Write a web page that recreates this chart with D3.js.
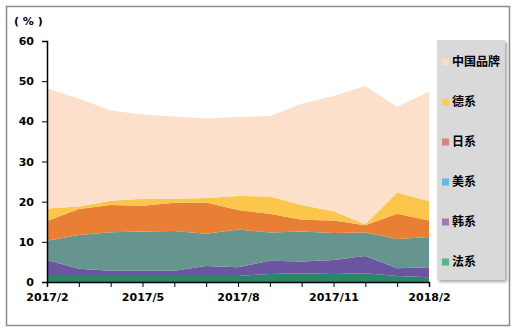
<!DOCTYPE html>
<html>
<head>
<meta charset="utf-8">
<script src="https://cdnjs.cloudflare.com/ajax/libs/d3/7.8.5/d3.min.js"></script>
<style type='text/css'>
  body { margin: 0; background: #fff; }
  svg text { font-family: "DejaVu Sans", "Noto Sans CJK SC", sans-serif; font-weight: bold; fill: #000; }
</style>
</head>
<body>
<div id='chart'></div>
<script type='text/javascript'>
  var months = ['2017/2','2017/3','2017/4','2017/5','2017/6','2017/7','2017/8','2017/9','2017/10','2017/11','2017/12','2018/1','2018/2'];
  var tickLabels = ['2017/2','2017/5','2017/8','2017/11','2018/2'];
  var yTicks = [0, 10, 20, 30, 40, 50, 60];

  // shares by brand origin, %
  var fa     = [1.5, 1.5, 1.5, 1.5, 1.5, 1.5, 1.5, 2.0, 2.2, 2.0, 2.2, 1.5, 1.2];
  var han    = [4.0, 1.8, 1.3, 1.3, 1.3, 2.5, 2.2, 3.3, 2.9, 3.5, 4.3, 1.9, 2.5];
  var mei    = [4.8, 8.4, 9.6, 9.8, 9.9, 8.0, 9.4, 7.0, 7.5, 6.7, 5.8, 7.3, 7.5];
  var ri     = [4.9, 6.5, 6.8, 6.4, 7.0, 7.8, 4.8, 4.7, 2.9, 3.1, 1.8, 6.3, 4.1];
  var de     = [3.1, 0.6, 1.0, 1.7, 1.0, 1.1, 3.5, 4.3, 3.7, 2.3, 0.3, 5.3, 4.8];
  var china  = [29.9, 26.9, 22.5, 21.0, 20.5, 19.8, 19.7, 20.0, 25.2, 28.7, 34.4, 21.3, 27.3];

  var keys = ['法系','韩系','美系','日系','德系','中国品牌'];
  var series = [fa, han, mei, ri, de, china];
  var areaColors = ['#2b8668','#6b54a0','#66958e','#e97f35','#fcc64c','#fde0cb'];
  var legendColors = ['#50b883','#9b7bb9','#5fb7e2','#d9817e','#f6cb5e','#fbdcc6'];

  var rows = months.map(function(m, i) {
    var r = { month: m };
    keys.forEach(function(k, j) { r[k] = series[j][i]; });
    return r;
  });

  var W = 521, H = 335;
  var svg = d3.select('#chart').append('svg').attr('width', W).attr('height', H);

  svg.append('rect')
    .attr('x', 6.5).attr('y', 6.5).attr('width', 503).attr('height', 319)
    .attr('fill', '#fff').attr('stroke', '#8c8c8c').attr('stroke-width', 1.5);

  var x = d3.scalePoint().domain(months).range([47, 429]);
  var y = d3.scaleLinear().domain([0, 60]).range([282, 41]);

  var layers = d3.stack().keys(keys)(rows);

  var area = d3.area()
    .x(function(d) { return x(d.data.month); })
    .y0(function(d) { return y(d[0]); })
    .y1(function(d) { return y(d[1]); });

  svg.append('g').selectAll('path')
    .data(layers)
    .enter().append('path')
    .attr('d', area)
    .attr('fill', function(d, i) { return areaColors[i]; });

  // y axis
  var yAxis = d3.axisLeft(y).tickValues(yTicks).tickSize(5).tickPadding(8);
  var gy = svg.append('g').attr('transform', 'translate(47,0)').call(yAxis);
  gy.select('.domain').attr('stroke', '#000').attr('stroke-width', 1.5);
  gy.selectAll('.tick line').attr('stroke', '#000');
  gy.selectAll('text').style('font-size', '11px').style('font-family', '"DejaVu Sans", sans-serif').style('font-weight', 'bold');

  // x axis
  var xAxis = d3.axisBottom(x).tickSize(5).tickPadding(6)
    .tickFormat(function(d) { return tickLabels.indexOf(d) >= 0 ? d : ''; });
  var gx = svg.append('g').attr('transform', 'translate(0,282)').call(xAxis);
  gx.select('.domain').attr('stroke', '#000').attr('stroke-width', 1.5);
  gx.selectAll('.tick line').attr('stroke', '#000');
  gx.selectAll('text').style('font-size', '11px').style('font-family', '"DejaVu Sans", sans-serif').style('font-weight', 'bold');

  svg.append('text')
    .attr('x', 14).attr('y', 25)
    .style('font-size', '11px')
    .text('( % )');

  // legend
  var defs = svg.append('defs');
  var f = defs.append('filter').attr('id', 'shadow').attr('x', '-20%').attr('y', '-20%').attr('width', '140%').attr('height', '140%');
  f.append('feDropShadow').attr('dx', 2).attr('dy', 2).attr('stdDeviation', 1.5).attr('flood-color', '#000').attr('flood-opacity', 0.35);

  svg.append('rect')
    .attr('x', 437).attr('y', 40).attr('width', 68).attr('height', 240)
    .attr('fill', '#d9d9d9').attr('filter', 'url(#shadow)');

  var legendOrder = keys.slice().reverse();
  var lg = svg.append('g').selectAll('g')
    .data(legendOrder)
    .enter().append('g')
    .attr('transform', function(d, i) { return 'translate(442,' + (62 + i * 40) + ')'; });

  lg.append('rect')
    .attr('x', 0).attr('y', -3.5).attr('width', 7).attr('height', 7)
    .attr('fill', function(d) { return legendColors[keys.indexOf(d)]; });

  lg.append('text')
    .attr('x', 10).attr('dy', '0.35em')
    .style('font-size', '12px')
    .style('font-family', '"Noto Sans CJK SC", sans-serif')
    .text(function(d) { return d; });
</script>
</body>
</html>
